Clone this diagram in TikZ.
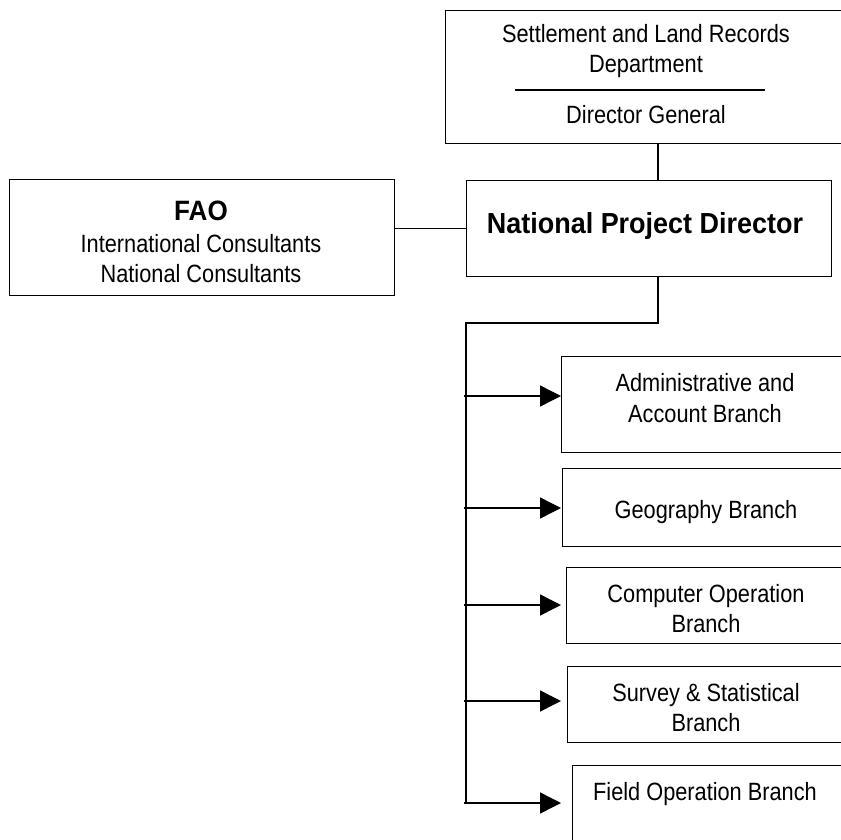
\documentclass[tikz,border=0pt]{standalone}
\usepackage{fontspec}
\setmainfont{Liberation Sans}[FakeStretch=0.87]
\newfontfamily\boldfam{Liberation Sans}[FakeStretch=0.93]
\usetikzlibrary{arrows.meta}
\begin{document}
\begin{tikzpicture}[x=1pt,y=-1pt,
  box/.style={draw, line width=1.4pt, inner sep=0pt, anchor=north west, rectangle},
  txt/.style={inner sep=0pt, anchor=base, font=\fontsize{25}{30}\selectfont},
  btxt/.style={inner sep=0pt, anchor=base, font=\boldfam\bfseries\fontsize{28}{32}\selectfont},
  conn/.style={line width=1.4pt},
  arr/.style={conn, -{Triangle[length=21pt,width=21pt]}}]
\useasboundingbox (0,0) rectangle (841,839);
\clip (0,0) rectangle (841,839);
% boxes
\node[box, minimum width=402pt, minimum height=133pt] (top) at (445,10) {};
\node[box, minimum width=385pt, minimum height=116pt] (fao) at (9,179) {};
\node[box, minimum width=365pt, minimum height=96pt] (npd) at (466,180) {};
\node[box, minimum width=300pt, minimum height=96pt] (adm) at (561,356) {};
\node[box, minimum width=300pt, minimum height=78pt] (geo) at (562,468) {};
\node[box, minimum width=300pt, minimum height=76pt] (cmp) at (566,567) {};
\node[box, minimum width=300pt, minimum height=76pt] (srv) at (567,666) {};
\node[box, minimum width=300pt, minimum height=100pt] (fld) at (572,765) {};
% texts
\node[txt] (topT1) at (646,42) {Settlement and Land Records};
\node[txt] (topT2) at (646,72) {Department};
\coordinate (dl) at (515,90);
\coordinate (dr) at (765,90);
\draw[conn] (dl) -- (dr);
\node[txt] (topT3) at (646,123) {Director General};
\node[btxt, font=\boldfam\bfseries\fontsize{29}{33}\selectfont] (npdT) at (645,233) {National Project Director};
\node[btxt] (faoT1) at (201,220) {FAO};
\node[txt] (faoT2) at (201,252) {International Consultants};
\node[txt] (faoT3) at (201,282) {National Consultants};
\node[txt] (admT1) at (705,391) {Administrative and};
\node[txt] (admT2) at (705,422) {Account Branch};
\node[txt] (geoT) at (706,518) {Geography Branch};
\node[txt] (cmpT1) at (706,602) {Computer Operation};
\node[txt] (cmpT2) at (706,632) {Branch};
\node[txt] (srvT1) at (706,701) {Survey \& Statistical};
\node[txt] (srvT2) at (706,731) {Branch};
\node[txt] (fldT) at (705,800) {Field Operation Branch};
% connectors
\coordinate (j) at (658,0);
\draw[conn] (top.south -| j) -- (npd.north -| j);
\draw[conn] (npd.west) -- (npd.west -| fao.east);
\coordinate (tt) at (466,323);
\coordinate (tb) at (466,804);
\draw[conn] (npd.south -| j) |- (tt) -- (tb);
\coordinate (tipx) at (561,0);
\coordinate (a1) at (464,396);
\coordinate (a2) at (464,508);
\coordinate (a3) at (464,605);
\coordinate (a4) at (464,701);
\coordinate (a5) at (464,803);
\draw[arr] (a1) -- (tipx |- a1);
\draw[arr] (a2) -- (tipx |- a2);
\draw[arr] (a3) -- (tipx |- a3);
\draw[arr] (a4) -- (tipx |- a4);
\draw[arr] (a5) -- (tipx |- a5);
\end{tikzpicture}
\end{document}
